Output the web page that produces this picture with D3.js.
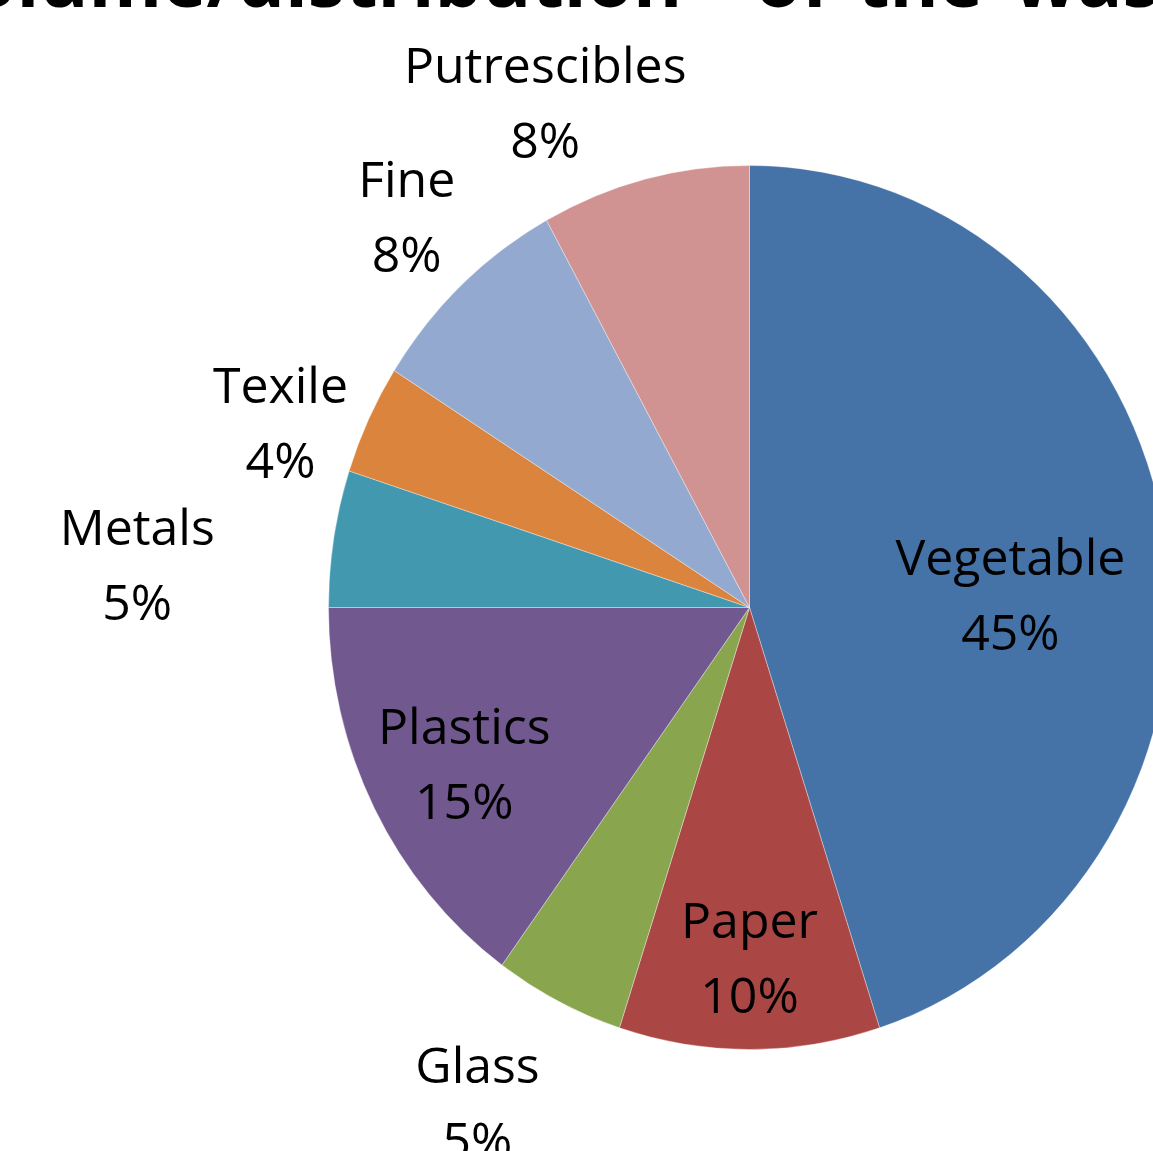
<!DOCTYPE html>
<html>
<head>
<meta charset="utf-8">
<script src="https://cdn.jsdelivr.net/npm/d3@7"></script>
<style>
  html, body { margin: 0; padding: 0; background: #fff; overflow: hidden; }
  text { font-family: "Open Sans", Lato, sans-serif; }
</style>
</head>
<body>
<svg id="chart" width="1153" height="1151"></svg>
<script>
const categories = ["Vegetable", "Paper", "Glass", "Plastics", "Metals", "Texile", "Fine", "Putrescibles"];
const shares = [45, 10, 5, 15, 5, 4, 8, 8];
const colors = ["#4572A7", "#AA4643", "#89A54E", "#71588F", "#4198AF", "#DB843D", "#93A9CF", "#D19392"];
const titleWords = ["Volume/distribution", "of", "the", "waste"];

// label placement: angle (deg, clockwise from top) and radius factor
const labelLayout = {
  Vegetable: [88.2, 0.62],
  Paper: [180, 0.80],
  Glass: [209.8, 1.30],
  Plastics: [241.9, 0.768],
  Metals: [273.5, 1.457],
  Texile: [290.2, 1.187],
  Fine: [317.1, 1.196],
  Putrescibles: [336.8, 1.232]
};
// title is mostly off the top; word start positions
const titleWordX = [null, 755, 857, 1013];

const svg = d3.select("#chart");
const cx = 749.5, cy = 607.5;
const rx = 421, ry = 442;

const data = categories.map((c, i) => ({ name: c, value: shares[i], color: colors[i] }));

const pie = d3.pie().value(d => d.value).sort(null);
const arc = d3.arc().innerRadius(0).outerRadius(1);

// unit pie, stretched to the ellipse
const g = svg.append("g")
  .attr("transform", `translate(${cx},${cy}) scale(${rx},${ry})`);

g.selectAll("path")
  .data(pie(data))
  .join("path")
  .attr("d", arc)
  .attr("fill", d => d.data.color)
  .attr("stroke", "rgba(255,255,255,0.35)")
  .attr("stroke-width", 1)
  .attr("vector-effect", "non-scaling-stroke");

const labels = svg.append("g");
data.forEach(d => {
  const [deg, k] = labelLayout[d.name];
  const a = deg * Math.PI / 180;
  const x = cx + Math.sin(a) * k * rx;
  const y = cy - Math.cos(a) * k * ry;
  const t = labels.append("text")
    .attr("text-anchor", "middle")
    .attr("font-size", 50)
    .attr("fill", "#000");
  t.append("tspan").attr("x", x).attr("y", y - 23.5).text(d.name);
  t.append("tspan").attr("x", x).attr("y", y + 51.5).text(d.value + "%");
});

// title: measure first word, size so "distribution" is ~445px, slash centred at x=222
const probe = svg.append("text")
  .attr("font-size", 80).attr("font-weight", "bold")
  .text(titleWords[0]);
const pn = probe.node();
const fs = 80 * 445 / pn.getSubStringLength(7, 12);
probe.attr("font-size", fs);
const firstX = 222 - pn.getSubStringLength(0, 6) - pn.getSubStringLength(6, 1) / 2;
probe.remove();

const tt = svg.append("text")
  .attr("y", 7)
  .attr("font-size", fs)
  .attr("font-weight", "bold")
  .attr("fill", "#000");
titleWords.forEach((w, i) => {
  tt.append("tspan").attr("x", i === 0 ? firstX : titleWordX[i]).text(w);
});
</script>
</body>
</html>
